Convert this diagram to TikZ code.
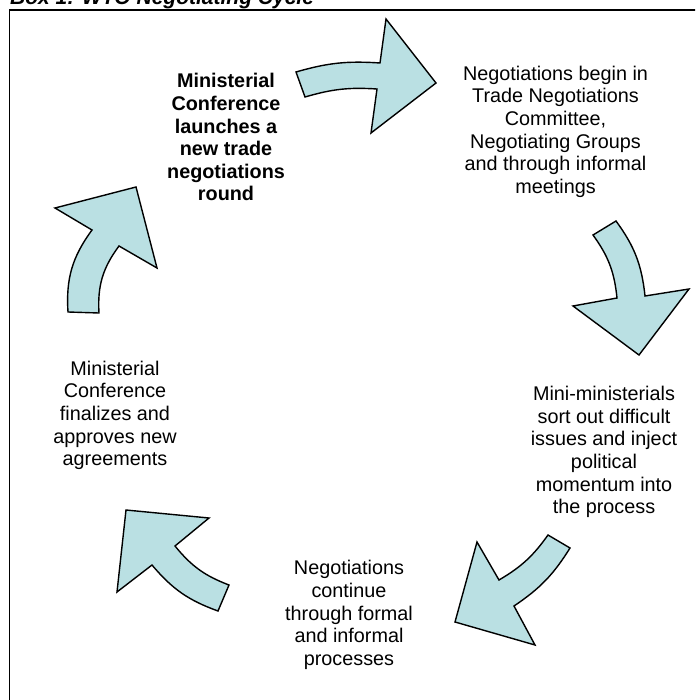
\documentclass[tikz,border=0pt]{standalone}
\usepackage{fontspec}
\setmainfont{Liberation Sans}
\definecolor{arrowfill}{RGB}{186,224,227}

\begin{document}
\begin{tikzpicture}[x=1pt, y=-1pt,
  stagetext/.style={align=center, inner sep=0pt, font=\fontsize{19.8}{22.6}\selectfont},
  boldtext/.style={stagetext, font=\fontsize{19.8}{22.6}\selectfont\bfseries},
  cyclearrow/.style={fill=arrowfill, draw=black, line width=1.4pt, line join=miter}]
\useasboundingbox (0,0) rectangle (695,700);
\clip (0,0) rectangle (695,700);

\node[anchor=base west, inner sep=0pt, font=\fontsize{21}{25}\selectfont\bfseries\itshape] (title) at (10,4.2) {Box 1: WTO Negotiating Cycle};
\draw[line width=1.8pt] (9.5,10) rectangle (720,720);

\node[boldtext] (launch) at (226,137.4) {Ministerial\\Conference\\launches a\\new trade\\negotiations\\round};
\node[stagetext] (begin) at (555.5,131.6) {Negotiations begin in\\Trade Negotiations\\Committee,\\Negotiating Groups\\and through informal\\meetings};
\node[stagetext] (minis) at (604,452) {Mini-ministerials\\sort out difficult\\issues and inject\\political\\momentum into\\the process};
\node[stagetext] (continue) at (349,615) {Negotiations\\continue\\through formal\\and informal\\processes};
\node[stagetext] (finalize) at (115,415.3) {Ministerial\\Conference\\finalizes and\\approves new\\agreements};

\draw[cyclearrow] (377,89) to[bend right=10] (305,97) -- (296,72) to[bend left=10] (380,63)
  -- (386,19) -- (436,83) -- (371,133) -- cycle;
\draw[cyclearrow] (617,298) to[bend right=15] (593,235) -- (616,221) to[bend left=15] (645,296)
  -- (689,289) -- (639,355) -- (573,306) -- cycle;
\draw[cyclearrow] (499,580) to[bend right=12] (548,535) -- (570,548) to[bend left=12] (514,606)
  -- (535,645) -- (455,622) -- (477,542) -- cycle;
\draw[cyclearrow] (175,546) to[bend right=15] (229,585) -- (218,611) to[bend left=15] (152,565)
  -- (117,592) -- (126,510) -- (209,518) -- cycle;
\draw[cyclearrow] (119,246) to[bend right=20] (99,313) -- (68,312) to[bend left=20] (92,230)
  -- (55,208) -- (136,187) -- (157,268) -- cycle;
\end{tikzpicture}
\end{document}
